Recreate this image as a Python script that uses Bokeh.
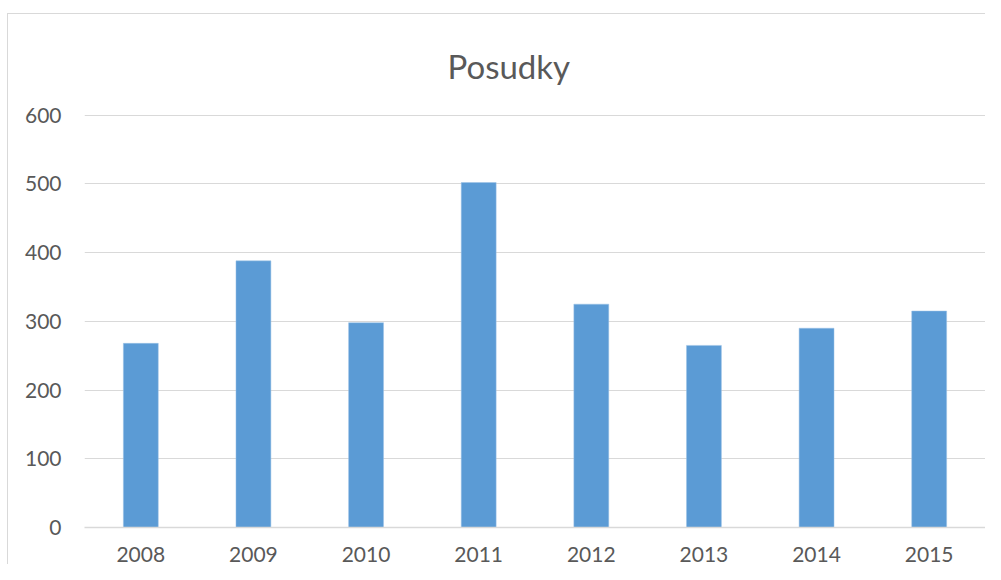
from bokeh.plotting import figure
from bokeh.models import ColumnDataSource, FixedTicker, Range1d
from bokeh.embed import file_html
from bokeh.resources import INLINE

years = ["2008", "2009", "2010", "2011", "2012", "2013", "2014", "2015"]
posudky = [268, 388, 298, 502, 325, 265, 290, 315]
y_ticks = [0, 100, 200, 300, 400, 500, 600]

src = ColumnDataSource(dict(x=years, top=posudky))

p = figure(x_range=years, y_range=Range1d(0, 601), width=978, height=551,
           output_backend="svg", toolbar_location=None,
           min_border_left=76, min_border_right=1, min_border_top=99, min_border_bottom=38)
p.margin = (13, 0, 0, 7)
p.styles = {"border-left": "1px solid #d9d9d9", "border-top": "1px solid #d9d9d9", "box-sizing": "border-box"}

p.vbar(x="x", top="top", width=0.31, source=src, fill_color="#5b9bd5",
       line_color="#9dc3e6", line_width=0.5)

p.title.text = "Posudky"
p.title.align = "left"
p.title.text_font = "Lato"
p.title.text_font_size = "33px"
p.title.text_font_style = "normal"
p.title.text_color = "#595959"
p.title.offset = 363
p.title.standoff = 58

p.outline_line_color = None
p.xgrid.grid_line_color = None
p.ygrid.grid_line_color = "#d9d9d9"
p.ygrid.grid_line_width = 1

p.yaxis.ticker = FixedTicker(ticks=y_ticks)
p.yaxis.axis_line_color = None
p.yaxis.major_tick_line_color = None
p.yaxis.minor_tick_line_color = None
p.yaxis.major_label_standoff = 17
p.yaxis.major_label_text_font = "Lato"
p.yaxis.major_label_text_font_size = "21px"
p.yaxis.major_label_text_color = "#595959"

p.xaxis.axis_line_color = "#d9d9d9"
p.xaxis.axis_line_width = 1.5
p.xaxis.major_tick_line_color = None
p.xaxis.minor_tick_line_color = None
p.xaxis.major_label_standoff = 13
p.xaxis.major_label_text_font = "Lato"
p.xaxis.major_label_text_font_size = "21px"
p.xaxis.major_label_text_color = "#595959"
p.x_range.range_padding = 0

open("out.html", "w").write(file_html(p, INLINE))
